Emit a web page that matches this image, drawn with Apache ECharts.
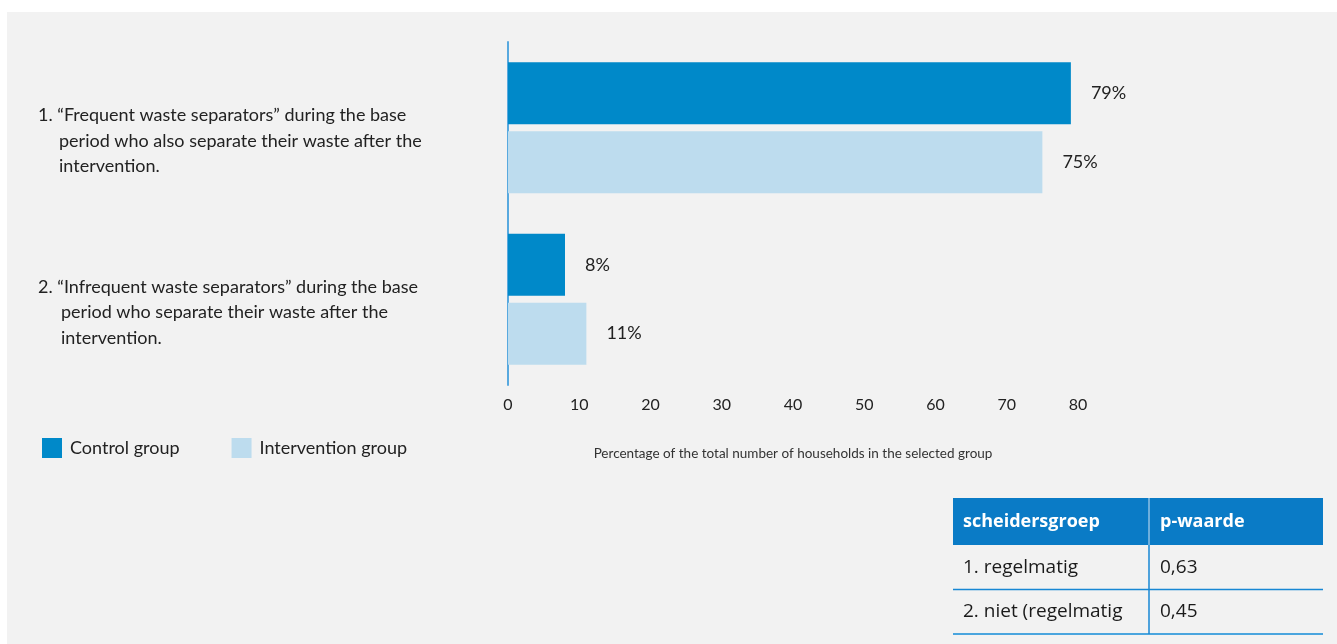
<!DOCTYPE html>
<html>
<head>
<meta charset="utf-8">
<script src="https://cdn.jsdelivr.net/npm/echarts@6/dist/echarts.min.js"></script>
<style>
  html, body { margin: 0; padding: 0; background: #ffffff; }
  #bg { position: absolute; left: 7px; top: 12px; width: 1330px; height: 632px; background: #f2f2f2; }
  #chart { position: absolute; left: 0; top: 0; width: 1337px; height: 644px; }
</style>
</head>
<body>
<div id="bg"></div>
<div id="chart"></div>
<script>
// ---- data ----
const categories = [
  '1. “Frequent waste separators” during the base\nperiod who also separate their waste after the\nintervention.',
  '2. “Infrequent waste separators” during the base\nperiod who separate their waste after the\nintervention.'
];
const seriesNames = ['Control group', 'Intervention group'];
const controlValues = [79, 8];
const interventionValues = [75, 11];
const xTicks = { min: 0, max: 80, interval: 10 };
const xAxisName = 'Percentage of the total number of households in the selected group';
const tableHeader = ['scheidersgroep', 'p-waarde'];
const tableRows = [
  ['1. regelmatig', '0,63'],
  ['2. niet (regelmatig', '0,45']
];

// ---- chart ----
const chart = echarts.init(document.getElementById('chart'), null, { renderer: 'canvas' });
const FONT = 'Lato';
const TFONT = 'Open Sans';

const tX = 953, tY = 498, tW = 370, colX = 1149, headH = 47, rowH = 44.5;
const tableGraphics = [];
tableGraphics.push({ type: 'rect', shape: { x: tX, y: tY, width: tW, height: headH }, style: { fill: '#0a7bc6' } });
tableGraphics.push({ type: 'line', shape: { x1: colX, y1: tY, x2: colX, y2: tY + headH }, style: { stroke: '#cfe3f3', lineWidth: 1 } });
tableHeader.forEach((h, i) => {
  tableGraphics.push({ type: 'text', x: i === 0 ? tX + 10 : colX + 11, y: tY + headH / 2,
    style: { text: h, fill: '#ffffff', font: 'bold 18px "' + TFONT + '"', verticalAlign: 'middle', align: 'left' } });
});
tableRows.forEach((row, r) => {
  const y0 = tY + headH + r * rowH;
  row.forEach((cell, i) => {
    tableGraphics.push({ type: 'text', x: i === 0 ? tX + 10 : colX + 11, y: y0 + rowH / 2,
      style: { text: cell, fill: '#1a1a1a', font: '19px "' + TFONT + '"', verticalAlign: 'middle', align: 'left' } });
  });
  const last = r === tableRows.length - 1;
  tableGraphics.push({ type: 'line', shape: { x1: tX, y1: y0 + rowH, x2: tX + tW, y2: y0 + rowH },
    style: { stroke: last ? '#4aa5de' : '#1787d4', lineWidth: last ? 2 : 1.5 } });
});
tableGraphics.push({ type: 'line', shape: { x1: colX, y1: tY + headH, x2: colX, y2: tY + headH + rowH * tableRows.length },
  style: { stroke: '#1787d4', lineWidth: 1.5 } });

const option = {
  backgroundColor: 'transparent',
  animation: false,
  textStyle: { fontFamily: FONT },
  grid: { left: 508, right: 259, top: 42, bottom: 259, containLabel: false },
  legend: {
    data: seriesNames,
    left: 42, top: 438, padding: 0,
    itemWidth: 20, itemHeight: 20, itemGap: 52,
    icon: 'rect',
    textStyle: { fontSize: 18, color: '#222', fontFamily: FONT, padding: [0, 0, 0, 3] }
  },
  xAxis: {
    type: 'value',
    min: xTicks.min, max: xTicks.max, interval: xTicks.interval,
    axisLine: { show: false }, axisTick: { show: false }, splitLine: { show: false },
    axisLabel: { fontSize: 16, color: '#222', margin: 12, fontFamily: FONT },
    name: xAxisName, nameLocation: 'middle', nameGap: 62,
    nameTextStyle: { fontSize: 13.5, color: '#333', fontFamily: FONT }
  },
  yAxis: {
    type: 'category',
    inverse: true,
    data: categories,
    axisLine: { show: true, lineStyle: { color: '#58a9df', width: 2 } },
    axisTick: { show: false },
    axisLabel: {
      align: 'left', margin: 470, padding: [26, 0, 0, 0],
      formatter: function (v, idx) {
        return v.split('\n').map(function (l, i) {
          return i === 0 ? '{a|' + l + '}' : '{' + (idx === 0 ? 'b' : 'c') + '|' + l + '}';
        }).join('\n');
      },
      rich: {
        a: { fontSize: 18, lineHeight: 25.5, color: '#222', fontFamily: FONT },
        b: { fontSize: 18, lineHeight: 25.5, color: '#222', fontFamily: FONT, padding: [0, 0, 0, 21] },
        c: { fontSize: 18, lineHeight: 25.5, color: '#222', fontFamily: FONT, padding: [0, 0, 0, 23] }
      }
    }
  },
  series: [
    {
      name: seriesNames[0], type: 'bar', data: controlValues,
      barWidth: 62, barGap: '11%',
      itemStyle: { color: '#0089c9' },
      label: { show: true, position: 'right', distance: 20, formatter: '{c}%', fontSize: 18, color: '#222', fontFamily: FONT }
    },
    {
      name: seriesNames[1], type: 'bar', data: interventionValues,
      barWidth: 62, barGap: '11%',
      itemStyle: { color: '#bddcee' },
      label: { show: true, position: 'right', distance: 20, formatter: '{c}%', fontSize: 18, color: '#222', fontFamily: FONT }
    }
  ],
  graphic: tableGraphics
};
chart.setOption(option);
</script>
</body>
</html>
